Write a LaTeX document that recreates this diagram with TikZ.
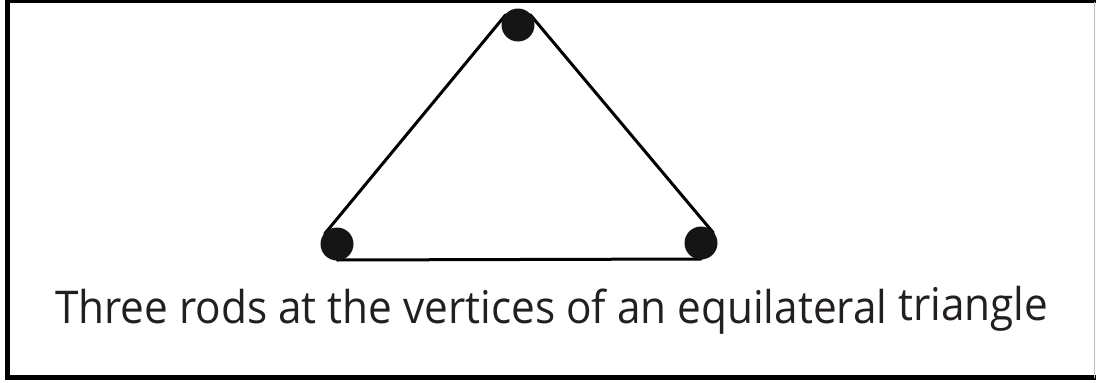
\documentclass[tikz,border=0pt]{standalone}
\usepackage{fontspec}
\setmainfont{Open Sans}
\usetikzlibrary{calc}
\definecolor{rodc}{HTML}{151515}
\definecolor{textc}{HTML}{231F20}
\begin{document}
\begin{tikzpicture}[x=1pt,y=-1pt,
  rod/.style={circle,fill=rodc,draw=none,minimum size=33pt,inner sep=0pt},
  band/.style={line width=3pt,draw=black,line cap=round},
  framel/.style={draw=black,line cap=rect}]
\useasboundingbox (0,0) rectangle (1096,383);
% frame
\draw[framel,line width=3pt] (7,1.5) -- (1094.5,1.5);
\draw[framel,line width=4.5pt] (7.3,1.5) -- (7.3,377.5);
\draw[framel,line width=5pt] (7.3,377.5) -- (1094.5,377.5);
\draw[draw=black!25,line width=1.5pt] (1094.5,1.5) -- (1094.5,377.5);
% rods
\coordinate (tc) at (518,25);
\coordinate (lc) at (337,244);
\coordinate (rc) at (701,243);
\draw[band] ($(tc)!16pt!-90:(lc)$) -- ($(lc)!16pt!90:(tc)$);
\draw[band] ($(tc)!16pt!90:(rc)$) -- ($(rc)!16pt!-90:(tc)$);
\draw[band] ($(lc)!16pt!-90:(rc)$) -- ($(rc)!16pt!90:(lc)$);
\node[rod] (top) at (tc) {};
\node[rod] (left) at (lc) {};
\node[rod] (right) at (rc) {};
% caption
\node[anchor=base west,inner sep=0pt,text=textc] (cap) at (55,323)
  {\resizebox{993pt}{37pt}{Three rods at the vertices of an equilateral \raisebox{0.06em}{triangle}}};
\end{tikzpicture}
\end{document}
